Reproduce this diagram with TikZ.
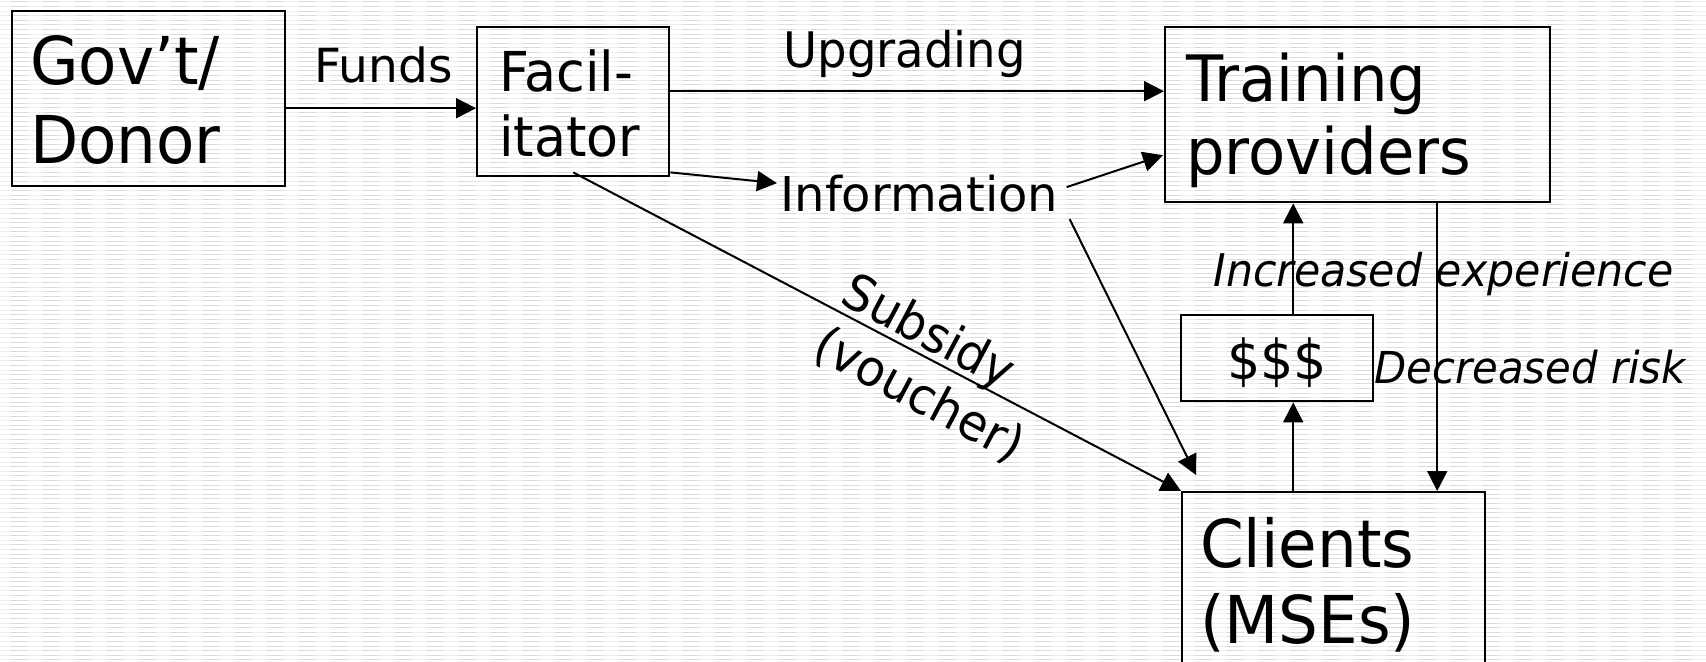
\documentclass[tikz,border=0pt]{standalone}
\usepackage{fontspec}
\setmainfont{DejaVu Sans}[FakeStretch=0.95, ItalicFont={DejaVu Sans Oblique}]
\newfontfamily\widefont{DejaVu Sans}
\usetikzlibrary{arrows.meta,calc}
\definecolor{bgl}{gray}{0.93}
\definecolor{bgd}{gray}{0.86}
\newcommand{\fsz}[2]{\fontsize{#1}{#2}\selectfont}
\begin{document}
\begin{tikzpicture}[x=0.5pt, y=-0.5pt,
  box/.style={draw, line width=1.2pt, rectangle, inner ysep=0pt, anchor=north west, align=left},
  arr/.style={line width=1pt, -{Triangle[length=10pt,width=10pt]}},
  lbl/.style={inner sep=0pt, anchor=base west},
  bgline/.style={line width=0.5pt}]
\useasboundingbox (0,0) rectangle (1706,662);
\fill[white] (0,0) rectangle (1706,662);
% background ruling
\foreach \k in {0,...,143} {
  \draw[bgline, bgl] (0,2+4.6*\k) -- (1706,2+4.6*\k);
  \draw[bgline, bgd, dash pattern=on 8.5pt off 7.5pt, dash phase=10.5pt] (0,2+4.6*\k) -- (1706,2+4.6*\k);
}
% boxes
\node[box, font={\fsz{33pt}{39.5pt}}, minimum height=87.5pt, inner xsep=9pt, text width=118.5pt, text height=10pt, text depth=24.5pt]
  (gov) at (11,10) {Gov’t/\\Donor};
\node[box, font={\fsz{27.5pt}{32.5pt}}, minimum height=74.5pt, inner xsep=11pt, text width=74pt, text height=8pt, text depth=18.5pt]
  (fac) at (476,26) {Facil-\\itator};
\node[box, font={\fsz{32pt}{36.5pt}}, minimum height=87.5pt, inner xsep=10.5pt, text width=171.5pt, text height=10pt, text depth=23.5pt]
  (trn) at (1164,26) {Training\\providers};
\node[box, font={\fsz{33pt}{38pt}}, minimum height=104.5pt, inner xsep=9pt, text width=133.5pt, text height=10pt, text depth=39.5pt]
  (cli) at (1181,491) {Clients\\(MSEs)};
\node[box, font={\fsz{27.5pt}{32pt}}, align=center, minimum height=43pt, inner xsep=0pt, text width=96pt, text height=21pt, text depth=0pt]
  (dol) at (1180,314) {\$\$\$};
% labels
\node[lbl, font={\widefont\fsz{23.5pt}{28pt}}] (funds) at (314,83) {Funds};
\node[lbl, font={\fsz{24.5pt}{29pt}}] (upg) at (783,68) {Upgrading};
\node[lbl, font={\widefont\fsz{24pt}{29pt}}] (info) at (780,212) {Information};
\node[lbl, font={\itshape\fsz{22.5pt}{26pt}}] (incr) at (1213,287) {Increased experience};
\node[lbl, font={\itshape\fsz{22pt}{26pt}}] (decr) at (1374,383) {Decreased risk};
\node[inner sep=0pt, align=left, rotate=-28, font={\fsz{25pt}{30pt}}] (subs) at (933,369) {Subsidy\\(voucher)};
% connectors
\draw[arr] ($(gov.east)+(0,9.5)$) -- ($(fac.west)+(0,6.5)$);
\draw[arr] ($(fac.east)+(0,-10.5)$) -- ($(trn.west)+(0,-23.5)$);
\draw[arr] ($(fac.south east)+(0,-5)$) -- ($(info.west)+(-3,-11)$);
\draw[arr] ($(info.east)+(8,-7)$) -- ($(trn.west)+(-1,40.5)$);
\draw[arr] ($(info.south east)+(11,6)$) -- ($(cli.north west)+(15,-16)$);
\draw[arr] ($(fac.south)+(0,-5)$) -- (cli.north west);
\coordinate (tr) at ($(trn.south)+(79.5,0)$);
\draw[arr] (tr) -- (tr |- cli.north);
\coordinate (dlo) at ($(dol.south)+(16,0)$);
\draw[arr] (dlo |- cli.north) -- (dlo);
\coordinate (dhi) at ($(dol.north)+(16,0)$);
\draw[arr] (dhi) -- (dhi |- trn.south);
\end{tikzpicture}
\end{document}
